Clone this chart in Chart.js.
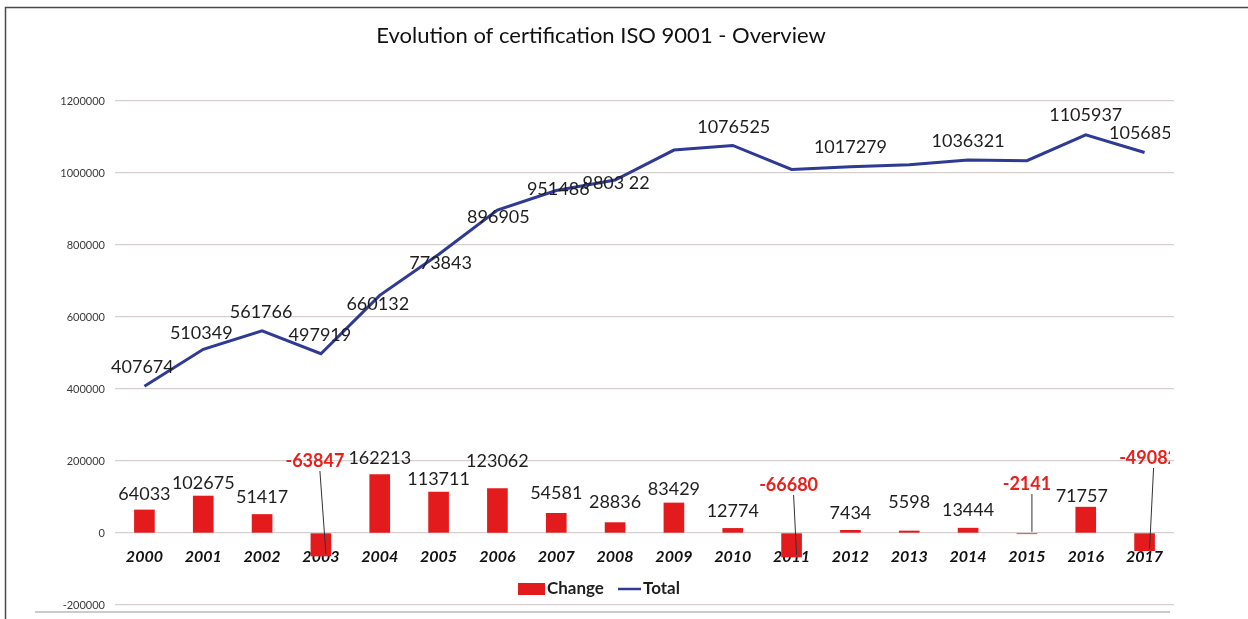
<!DOCTYPE html>
<html>
<head>
<meta charset="utf-8">
<title>Evolution of certification ISO 9001 - Overview</title>
<script src="https://cdn.jsdelivr.net/npm/chart.js@4.4.1/dist/chart.umd.min.js"></script>
<style>
    html, body { margin: 0; padding: 0; background: #fff; }
</style>
</head>
<body>
<canvas id="isoChart" width="1248" height="619"></canvas>
<script>
// Data
const years = ['2000', '2001', '2002', '2003', '2004', '2005', '2006', '2007', '2008',
               '2009', '2010', '2011', '2012', '2013', '2014', '2015', '2016', '2017'];
const changeValues = [64033, 102675, 51417, -63847, 162213, 113711, 123062, 54581, 28836,
                      83429, 12774, -66680, 7434, 5598, 13444, -2141, 71757, -49082];
const totalValues = [407674, 510349, 561766, 497919, 660132, 773843, 896905, 951486, 980322,
                     1063751, 1076525, 1009845, 1017279, 1022877, 1036321, 1034180, 1105937, 1056855];
// labels printed next to the Total line (null = no label in the original)
const totalLabels = ['407674', '510349', '561766', '497919', '660132', '773843', '896905', '951486', '9803 22',
                     null, '1076525', null, '1017279', null, '1036321', null, '1105937', '1056855'];
const yTicks = [-200000, 0, 200000, 400000, 600000, 800000, 1000000, 1200000];

// Label nudges (pixels) so the labels sit where Excel put them
const changeLabelDx = [0, 0, 0, -6, 0, 0, 0, 0, 0, 0, 0, -3, 0, 0, 0, 0, -4, 4];
const changeLabelDy = [-16, -13, -17, -72, -16, -13, -28, -20, -20, -14, -17, -48, -17, -29, -18, -49, -11, -75];
const totalLabelDx = [-2, -2, -1, -1, -2, 2, 1, 2, 1, 0, 1, 0, 0, 0, 0, 0, 0, 1];
const totalLabelDy = [-19, -16, -19, -19, 9, 9, 7, -1, 3, 0, -18, 0, -20, 0, -19, 0, -20, -19];

const FONT = 'Lato, "Open Sans", sans-serif';
const RED = '#e31b1d';
const BLUE = '#2e3a94';

// Frame, title and white background
const framePlugin = {
    id: 'frame',
    beforeDraw(chart) {
        const ctx = chart.ctx;
        ctx.save();
        ctx.fillStyle = '#fff';
        ctx.fillRect(0, 0, chart.width, chart.height);
        ctx.strokeStyle = '#4a4a4a';
        ctx.lineWidth = 1.5;
        ctx.beginPath();
        ctx.moveTo(5.5, chart.height);
        ctx.lineTo(5.5, 7.5);
        ctx.lineTo(chart.width, 7.5);
        ctx.stroke();
        ctx.strokeStyle = '#cfcaca';
        ctx.lineWidth = 2;
        ctx.beginPath();
        ctx.moveTo(35, 612);
        ctx.lineTo(1170, 612);
        ctx.stroke();
        ctx.fillStyle = '#111';
        ctx.font = '22px ' + FONT;
        ctx.textAlign = 'center';
        ctx.textBaseline = 'middle';
        ctx.fillText('Evolution of certification ISO 9001 - Overview', 601, 36);
        ctx.restore();
    }
};

// Value labels + leader lines for the negative changes
const valueLabels = {
    id: 'valueLabels',
    afterDatasetsDraw(chart) {
        const { ctx, scales } = chart;
        const zeroY = scales.y.getPixelForValue(0);
        ctx.save();
        ctx.beginPath();
        ctx.rect(0, 0, 1170, chart.height);
        ctx.clip();
        ctx.textAlign = 'center';
        ctx.textBaseline = 'middle';

        chart.getDatasetMeta(0).data.forEach((bar, i) => {
            const v = changeValues[i];
            const neg = v < 0;
            const x = bar.x + changeLabelDx[i];
            const y = (neg ? zeroY : bar.y) + changeLabelDy[i];
            if (neg) {
                ctx.strokeStyle = '#333';
                ctx.lineWidth = 1;
                ctx.beginPath();
                ctx.moveTo(x + 5, y + 10);
                ctx.lineTo(bar.x + 5, bar.y - 2);
                ctx.stroke();
                ctx.font = 'bold 18px ' + FONT;
                ctx.fillStyle = '#e8201c';
            } else {
                ctx.font = '18px ' + FONT;
                ctx.fillStyle = '#1e1e1e';
            }
            ctx.fillText(String(v), x, y);
        });

        ctx.font = '18px ' + FONT;
        ctx.fillStyle = '#1e1e1e';
        chart.getDatasetMeta(1).data.forEach((pt, i) => {
            if (!totalLabels[i]) return;
            ctx.fillText(totalLabels[i], pt.x + totalLabelDx[i], pt.y + totalLabelDy[i]);
        });
        ctx.restore();
    }
};

// Legend sits inside the plot, under the year labels
const innerLegend = {
    id: 'innerLegend',
    afterDraw(chart) {
        const ctx = chart.ctx;
        const ds = chart.data.datasets;
        const cy = 589;
        ctx.save();
        ctx.font = 'bold 17px ' + FONT;
        ctx.textBaseline = 'middle';
        ctx.fillStyle = ds[0].backgroundColor;
        ctx.fillRect(518, cy - 6, 27, 12);
        ctx.fillStyle = '#1e1e1e';
        ctx.fillText(ds[0].label, 547, cy);
        ctx.strokeStyle = ds[1].borderColor;
        ctx.lineWidth = 2.5;
        ctx.beginPath();
        ctx.moveTo(618, cy);
        ctx.lineTo(641, cy);
        ctx.stroke();
        ctx.fillText(ds[1].label, 643, cy);
        ctx.restore();
    }
};

const ctx = document.getElementById('isoChart').getContext('2d');
new Chart(ctx, {
    data: {
        labels: years,
        datasets: [{
            type: 'bar',
            label: 'Change',
            data: changeValues,
            backgroundColor: RED,
            barThickness: 20,
            order: 2
        }, {
            type: 'line',
            label: 'Total',
            data: totalValues,
            borderColor: BLUE,
            borderWidth: 3,
            pointRadius: 0,
            tension: 0,
            fill: false,
            order: 1
        }]
    },
    options: {
        responsive: false,
        animation: false,
        layout: { padding: { left: 0, right: 74, top: 101, bottom: 14 } },
        scales: {
            x: {
                position: { y: 0 },
                grid: { display: false, drawTicks: false },
                border: { display: false },
                ticks: {
                    padding: 14,
                    color: '#111',
                    font: { family: FONT, size: 16, style: 'italic', weight: 'bold' }
                }
            },
            y: {
                min: -200000,
                max: 1200000,
                afterFit(scale) { scale.width = 115; },
                afterBuildTicks(scale) { scale.ticks = yTicks.map(v => ({ value: v })); },
                // invisible tick marks give the 10px gap without inflating the axis padding
                grid: { color: '#d6cfcf', lineWidth: 1.3, drawTicks: true, tickLength: 7, tickColor: 'rgba(0,0,0,0)' },
                border: { display: false },
                ticks: {
                    padding: 3,
                    color: '#3a3a3a',
                    font: { family: FONT, size: 11 },
                    callback: v => String(v)
                }
            }
        },
        plugins: {
            legend: { display: false },
            title: { display: false },
            tooltip: { enabled: false }
        }
    },
    plugins: [framePlugin, valueLabels, innerLegend]
});
</script>
</body>
</html>
